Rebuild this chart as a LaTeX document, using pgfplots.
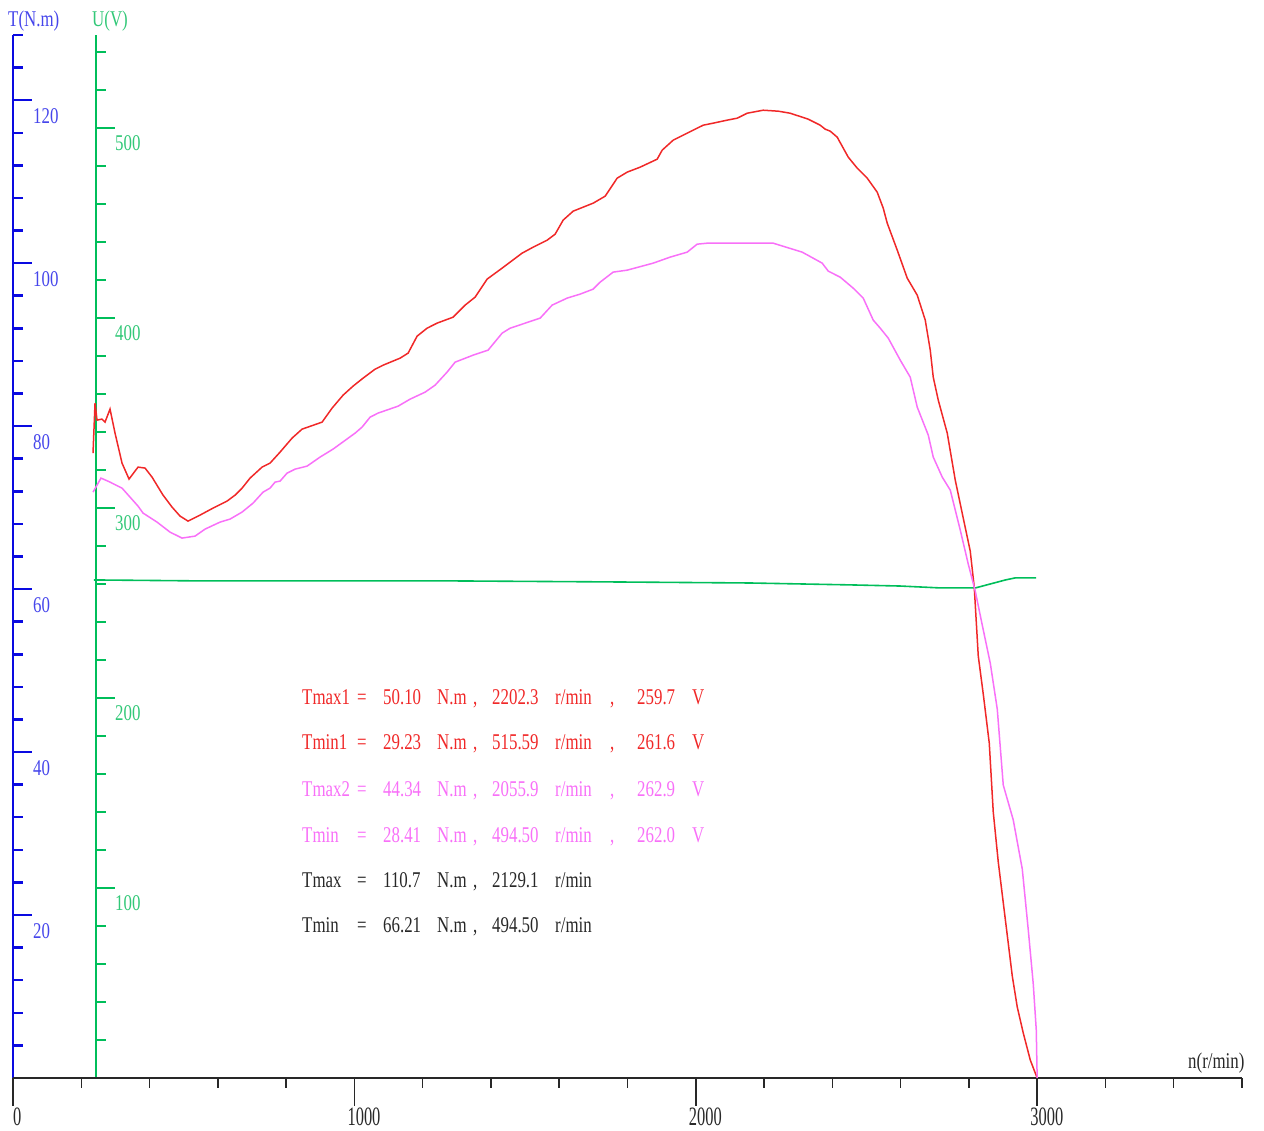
\documentclass[border=0pt]{standalone}
\usepackage{fontspec}
\setmainfont[FakeStretch=0.75]{Liberation Serif}
\newfontfamily\xtfont[FakeStretch=0.62]{Liberation Serif}
\usepackage{pgfplots}
\pgfplotsset{compat=1.18}

\definecolor{tred}{RGB}{240,40,40}
\definecolor{tpink}{RGB}{248,112,248}
\definecolor{tblue}{RGB}{10,10,225}
\definecolor{tbluet}{RGB}{70,70,235}
\definecolor{ugreen}{RGB}{0,190,90}
\definecolor{ugreent}{RGB}{50,200,120}
\definecolor{tgray}{RGB}{40,40,40}

\newcommand{\lbl}{\fontsize{22.5}{26}\selectfont}

\begin{document}
\begin{tikzpicture}
\useasboundingbox (-13pt,-53pt) rectangle (1251pt,1078pt);

% U axis (green)
\begin{axis}[
    at={(83pt,0pt)}, anchor=south west,
    scale only axis, width=1146pt, height=1043pt,
    xmin=243, xmax=3600, ymin=0, ymax=548.9,
    clip=false,
    hide x axis, axis y line=left,
    y axis line style={draw=ugreen, line width=1.5pt, -},
    ytick={100,200,300,400,500}, yticklabels={100,200,300,400,500},
    minor ytick={20,40,...,540},
    tick align=inside, major tick length=19pt, minor tick length=10pt,
    ytick style={draw=ugreen, line width=2pt},
    yticklabel style={font=\lbl, text=ugreent, anchor=north west, inner sep=0pt, xshift=19pt, yshift=-7pt},
]
\addplot[ugreen, line width=1.6pt] coordinates {
(237,262.1) (548,261.6) (841,261.6) (1280,261.6) (1720,261.1) (2159,260.5)
(2452,259.5) (2599,258.9) (2716,257.9) (2819,257.9) (2863,260.0) (2907,262.1)
(2936,263.2) (2997,263.2)};
\end{axis}

% T axis (blue)
\begin{axis}[
    at={(0pt,0pt)}, anchor=south west,
    scale only axis, width=1229pt, height=1043pt,
    xmin=0, xmax=3600, ymin=0, ymax=128,
    hide x axis, axis y line=left,
    y axis line style={draw=tblue, line width=2.5pt, -},
    ytick={20,40,...,120}, yticklabels={20,40,60,80,100,120},
    minor ytick={4,8,...,128},
    tick align=inside, major tick length=19pt, minor tick length=10pt,
    ytick style={draw=tblue, line width=2.5pt},
    yticklabel style={font=\lbl, text=tbluet, anchor=north west, inner sep=0pt, xshift=20pt, yshift=-8pt},
]
\addplot[draw=none] coordinates {(0,0)};
\end{axis}

% x axis with the torque curves
\begin{axis}[
    at={(0pt,0pt)}, anchor=south west,
    scale only axis, width=1229pt, height=1043pt,
    xmin=0, xmax=3600, ymin=0, ymax=128,
    hide y axis, axis x line=bottom,
    x axis line style={draw=tgray, line width=2pt, -},
    xtick={0,1000,2000,3000}, xticklabels={\hspace*{7pt}0,1000,2000,3000},
    minor xtick={200,400,...,3600},
    tick align=outside, major tick length=28pt, minor tick length=10pt,
    xtick style={draw=tgray, line width=1.5pt},
    xticklabel style={font=\xtfont\fontsize{26.5}{30}\selectfont, text=tgray, anchor=north west, inner sep=0pt, xshift=-7pt, yshift=-2pt},
]
% Tmax1 (red)
\addplot[tred, line width=1.5pt] coordinates {
(234.4,76.69) (240.3,82.82) (246.1,80.74) (260.8,80.86) (269.6,80.49) (284.2,82.09)
(298.9,79.14) (319.4,75.46) (339.9,73.50) (366.3,74.97) (386.8,74.85) (407.3,73.74)
(439.5,71.53) (465.9,70.06) (489.3,68.96) (512.8,68.34) (547.9,69.08) (586.0,69.94)
(627.0,70.80) (650.5,71.53) (671.0,72.39) (694.4,73.62) (729.6,74.97) (753.0,75.46)
(782.3,76.81) (817.5,78.53) (846.8,79.63) (905.4,80.49) (934.7,82.21) (966.9,83.80)
(996.2,84.91) (1025.5,85.89) (1060.7,86.99) (1084.1,87.48) (1133.9,88.34) (1157.4,88.96)
(1183.7,91.04) (1213.0,92.02) (1242.3,92.64) (1289.2,93.37) (1324.4,94.85) (1353.7,95.83)
(1388.8,98.04) (1432.8,99.39) (1491.4,101.23) (1523.6,101.96) (1564.6,102.82) (1588.1,103.56)
(1611.5,105.28) (1640.8,106.38) (1699.4,107.36) (1734.6,108.22) (1769.7,110.43) (1799.0,111.17)
(1837.1,111.78) (1886.9,112.76) (1901.6,113.87) (1933.8,115.09) (1974.8,115.95) (2021.7,116.93)
(2051.0,117.18) (2092.0,117.55) (2121.3,117.79) (2150.6,118.40) (2197.5,118.77) (2241.5,118.65)
(2276.6,118.40) (2329.4,117.67) (2364.5,116.93) (2379.2,116.44) (2393.8,116.20) (2414.3,115.46)
(2446.6,113.01) (2472.9,111.66) (2502.2,110.43) (2531.5,108.71) (2549.1,106.75) (2560.8,104.91)
(2590.1,101.60) (2619.4,98.16) (2648.7,96.07) (2672.2,93.01) (2686.8,89.33) (2695.6,86.01)
(2710.3,83.19) (2736.6,79.14) (2760.1,73.37) (2783.5,68.71) (2804.0,64.66) (2815.7,60.25)
(2827.5,51.78) (2842.1,47.12) (2859.7,41.10) (2871.4,32.64) (2886.1,26.50) (2906.6,19.51)
(2927.1,12.52) (2941.7,8.71) (2959.3,5.52) (2979.8,2.21) (3000,0)};
% Tmax2 (pink)
\addplot[tpink, line width=1.5pt] coordinates {
(234.4,71.90) (257.8,73.62) (284.2,73.13) (319.4,72.39) (366.3,70.18) (380.9,69.33)
(421.9,68.22) (460.0,66.99) (495.2,66.26) (533.3,66.50) (562.6,67.36) (606.5,68.22)
(635.8,68.59) (671.0,69.45) (703.2,70.55) (732.5,71.90) (753.0,72.39) (767.7,73.13)
(782.3,73.25) (802.8,74.23) (826.3,74.72) (861.4,75.09) (899.5,76.20) (937.6,77.18)
(1002.1,79.14) (1022.6,79.88) (1046.0,81.10) (1069.5,81.60) (1128.1,82.45) (1163.2,83.31)
(1207.2,84.17) (1236.5,85.03) (1271.6,86.63) (1295.1,87.85) (1347.8,88.71) (1391.8,89.33)
(1432.8,91.41) (1456.2,92.02) (1544.1,93.25) (1579.3,94.85) (1623.2,95.71) (1661.3,96.20)
(1699.4,96.81) (1719.9,97.67) (1758.0,98.90) (1799.0,99.14) (1875.2,100.00) (1925.0,100.74)
(1974.8,101.35) (2004.1,102.33) (2033.4,102.45) (2092.0,102.45) (2226.8,102.45) (2311.8,101.35)
(2370.4,100.00) (2388.0,99.02) (2423.1,98.28) (2461.2,96.93) (2490.5,95.71) (2519.8,93.01)
(2540.3,92.02) (2563.8,90.80) (2598.9,88.10) (2628.2,86.01) (2648.7,82.33) (2681.0,78.90)
(2695.6,76.20) (2722.0,73.74) (2745.4,72.15) (2774.7,67.24) (2798.2,63.07) (2818.7,59.75)
(2839.2,55.58) (2862.6,50.92) (2883.1,45.28) (2900.7,35.95) (2930.0,31.66) (2956.4,25.64)
(2974.0,18.16) (2988.6,11.53) (2997.4,5.89) (3000,0)};
\end{axis}

% axis titles
\node[anchor=base west, inner sep=0pt, text=tbluet, font=\lbl] at (-5pt,1051pt) {T(N.m)};
\node[anchor=base west, inner sep=0pt, text=ugreent, font=\lbl] at (79pt,1051pt) {U(V)};
\node[anchor=base west, inner sep=0pt, text=tgray, font=\lbl] at (1175pt,9pt) {n(r/min)};

% result lines
\newcommand{\resline}[8]{%
  \node[anchor=base west, inner sep=0pt, text=#2, font=\lbl] at (289pt,#1) {#3};
  \node[anchor=base west, inner sep=0pt, text=#2, font=\lbl] at (344pt,#1) {=};
  \node[anchor=base west, inner sep=0pt, text=#2, font=\lbl] at (370pt,#1) {#4};
  \node[anchor=base west, inner sep=0pt, text=#2, font=\lbl] at (424pt,#1) {N.m};
  \node[anchor=base west, inner sep=0pt, text=#2, font=\lbl] at (460pt,#1) {,};
  \node[anchor=base west, inner sep=0pt, text=#2, font=\lbl] at (479pt,#1) {#5};
  \node[anchor=base west, inner sep=0pt, text=#2, font=\lbl] at (542pt,#1) {r/min};
  #6%
  \node[anchor=base west, inner sep=0pt, text=#2, font=\lbl] at (624pt,#1) {#7};
  \node[anchor=base west, inner sep=0pt, text=#2, font=\lbl] at (679pt,#1) {#8};
}
\newcommand{\vcomma}[2]{\node[anchor=base west, inner sep=0pt, text=#2, font=\lbl] at (597pt,#1) {,};}
\resline{373pt}{tred}{Tmax1}{50.10}{2202.3}{\vcomma{373pt}{tred}}{259.7}{V}
\resline{328pt}{tred}{Tmin1}{29.23}{515.59}{\vcomma{328pt}{tred}}{261.6}{V}
\resline{281pt}{tpink}{Tmax2}{44.34}{2055.9}{\vcomma{281pt}{tpink}}{262.9}{V}
\resline{235pt}{tpink}{Tmin}{28.41}{494.50}{\vcomma{235pt}{tpink}}{262.0}{V}
\resline{190pt}{tgray}{Tmax}{110.7}{2129.1}{}{}{}
\resline{145pt}{tgray}{Tmin}{66.21}{494.50}{}{}{}
\end{tikzpicture}
\end{document}
